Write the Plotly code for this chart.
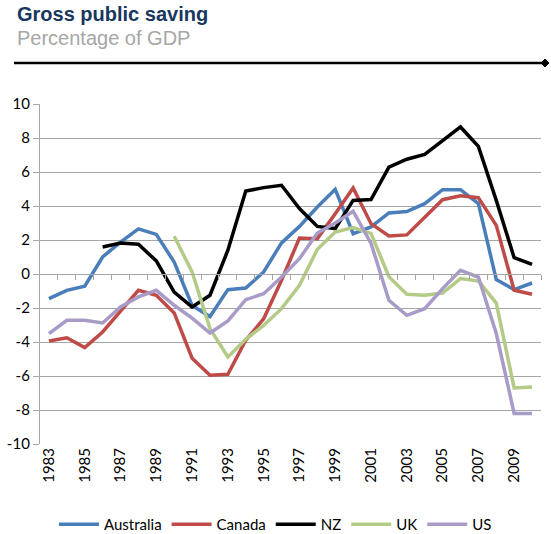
import plotly.graph_objects as go

years = list(range(1983, 2011))
australia = [-1.45, -0.96, -0.72, 1.0, 1.88, 2.65, 2.33, 0.7, -1.85, -2.5, -0.92, -0.82, 0.12, 1.83, 2.8, 3.94, 4.98, 2.37, 2.77, 3.59, 3.67, 4.14, 4.96, 4.96, 4.14, -0.33, -0.92, -0.53]
canada = [-3.94, -3.75, -4.33, -3.41, -2.18, -0.96, -1.25, -2.29, -4.95, -5.96, -5.9, -3.9, -2.63, -0.37, 2.12, 2.08, 3.55, 5.06, 2.96, 2.24, 2.3, 3.35, 4.37, 4.6, 4.49, 2.86, -0.96, -1.19]
nz = [None, None, None, 1.59, 1.82, 1.75, 0.77, -1.06, -1.94, -1.25, 1.4, 4.88, 5.08, 5.22, 3.85, 2.8, 2.67, 4.33, 4.38, 6.29, 6.75, 7.04, 7.86, 8.65, 7.51, 4.33, 0.96, 0.57]
uk = [None, None, None, None, None, None, None, 2.22, 0.12, -3.21, -4.88, -3.84, -3.02, -2.04, -0.66, 1.45, 2.47, 2.73, 2.39, -0.16, -1.19, -1.25, -1.12, -0.27, -0.41, -1.71, -6.7, -6.65]
us = [-3.51, -2.72, -2.72, -2.88, -1.94, -1.35, -0.96, -1.84, -2.6, -3.47, -2.76, -1.51, -1.16, -0.18, 0.9, 2.41, 3.0, 3.69, 1.8, -1.55, -2.43, -2.04, -0.86, 0.22, -0.18, -3.5, -8.2, -8.2]

series = [("Australia", australia, "#4A7EBB"),
          ("Canada", canada, "#BE4B48"),
          ("NZ", nz, "#000000"),
          ("UK", uk, "#B3CB87"),
          ("US", us, "#A99BC7")]

tick_years = list(range(1983, 2010, 2))
tick_labels = [str(y) for y in tick_years]
y_ticks = list(range(-10, 11, 2))
y_labels = [str(v) for v in y_ticks]

FONT = "Lato, Liberation Sans, Arial"

fig = go.Figure()
for name, vals, col in series:
    fig.add_trace(go.Scatter(x=years, y=vals, name=name, mode="lines",
                             line=dict(color=col, width=3.5),
                             connectgaps=False))

# invisible trace to anchor the zero-line category axis
fig.add_trace(go.Scatter(x=[years[0]], y=[0], xaxis="x2", yaxis="y",
                         mode="markers", marker=dict(opacity=0),
                         showlegend=False, hoverinfo="skip"))

W, H = 551, 534
ml, mr, mt, mb = 40, 10, 104, 90
pw, ph = W - ml - mr, H - mt - mb

def px(x):
    return (x - ml) / pw

def py(y):
    return (H - mb - y) / ph

fig.update_layout(
    width=W, height=H,
    margin=dict(l=ml, r=mr, t=mt, b=mb, autoexpand=False),
    paper_bgcolor="white", plot_bgcolor="white",
    font=dict(family=FONT, size=15, color="#000000"),
    showlegend=True,
    legend=dict(orientation="h", x=0.5, xanchor="center", xref="container",
                y=1 - 508 / H, yanchor="top", yref="container",
                font=dict(family=FONT, size=15), itemwidth=40, tracegroupgap=0),
    xaxis=dict(range=[1982.5, 2010.5], tickmode="array", tickvals=tick_years,
               ticktext=tick_labels, tickangle=-90, showgrid=False, zeroline=False,
               showline=False, ticks="", tickfont=dict(family=FONT, size=15),
               automargin=False),
    xaxis2=dict(range=[1982.5, 2010.5], overlaying="x", anchor="free", position=0.5,
                side="bottom", showline=True, linecolor="#A6A6A6", linewidth=1.3,
                ticks="outside", ticklen=5, tickcolor="#A6A6A6",
                tickmode="array", tickvals=[y + 0.5 for y in years],
                showticklabels=False, showgrid=False, zeroline=False),
    yaxis=dict(range=[-10, 10], tickmode="array", tickvals=y_ticks, ticktext=y_labels,
               showgrid=True, gridcolor="#A6A6A6", gridwidth=1.3,
               zeroline=False, showline=True, linecolor="#A6A6A6", linewidth=1.3,
               ticks="outside", ticklen=6, tickcolor="#A6A6A6",
               tickfont=dict(family=FONT, size=15), automargin=False),
)

fig.add_annotation(text="<b>Gross public saving</b>", xref="paper", yref="paper",
                   x=px(15), y=py(1), xanchor="left", yanchor="top", showarrow=False,
                   font=dict(family="Liberation Sans, Arial", size=20, color="#17375E"))
fig.add_annotation(text="Percentage of GDP", xref="paper", yref="paper",
                   x=px(15), y=py(25), xanchor="left", yanchor="top", showarrow=False,
                   font=dict(family="Liberation Sans, Arial", size=20, color="#A6A6A6"))

ly = py(63)
fig.add_shape(type="line", xref="paper", yref="paper", x0=px(14), x1=px(544),
              y0=ly, y1=ly, line=dict(color="black", width=2.5))
dx, dy = 4 / pw, 4 / ph
xe = px(545)
fig.add_shape(type="path", xref="paper", yref="paper",
              path=f"M {xe-dx} {ly} L {xe} {ly+dy} L {xe+dx} {ly} L {xe} {ly-dy} Z",
              fillcolor="black", line=dict(color="black", width=1))

fig.write_html("out.html")
